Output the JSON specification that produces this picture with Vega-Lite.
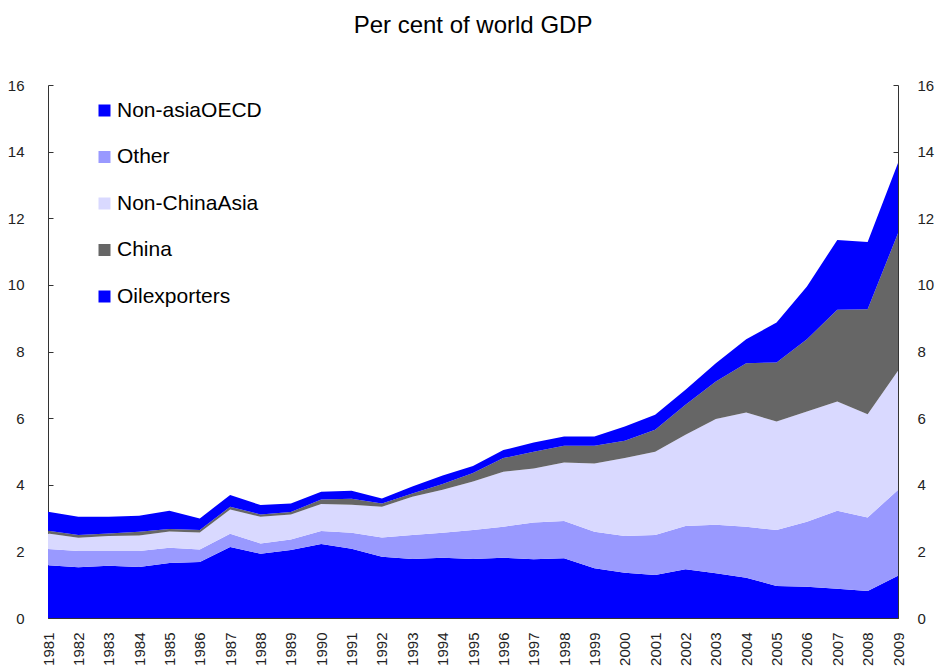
{
  "$schema": "https://vega.github.io/schema/vega-lite/v6.json",
  "width": 850,
  "height": 533,
  "autosize": "none",
  "padding": {"left": 48, "top": 85, "right": 39, "bottom": 51},
  "background": "white",
  "title": {"text": "Per cent of world GDP", "font": "Liberation Sans", "fontSize": 24, "fontWeight": "normal", "color": "black", "anchor": "middle", "offset": 40},
  "config": {"view": {"stroke": null}, "font": "Liberation Sans"},
  "data": {"values": [
    {"year": "1981", "Non-asiaOECD": 1.58, "Other": 0.49, "Non-ChinaAsia": 0.47, "China": 0.08, "Oilexporters": 0.57},
    {"year": "1982", "Non-asiaOECD": 1.52, "Other": 0.49, "Non-ChinaAsia": 0.40, "China": 0.08, "Oilexporters": 0.55},
    {"year": "1983", "Non-asiaOECD": 1.57, "Other": 0.44, "Non-ChinaAsia": 0.45, "China": 0.08, "Oilexporters": 0.50},
    {"year": "1984", "Non-asiaOECD": 1.53, "Other": 0.48, "Non-ChinaAsia": 0.47, "China": 0.11, "Oilexporters": 0.48},
    {"year": "1985", "Non-asiaOECD": 1.65, "Other": 0.46, "Non-ChinaAsia": 0.49, "China": 0.07, "Oilexporters": 0.55},
    {"year": "1986", "Non-asiaOECD": 1.68, "Other": 0.38, "Non-ChinaAsia": 0.51, "China": 0.07, "Oilexporters": 0.35},
    {"year": "1987", "Non-asiaOECD": 2.13, "Other": 0.40, "Non-ChinaAsia": 0.73, "China": 0.08, "Oilexporters": 0.35},
    {"year": "1988", "Non-asiaOECD": 1.93, "Other": 0.31, "Non-ChinaAsia": 0.80, "China": 0.07, "Oilexporters": 0.28},
    {"year": "1989", "Non-asiaOECD": 2.04, "Other": 0.32, "Non-ChinaAsia": 0.75, "China": 0.07, "Oilexporters": 0.26},
    {"year": "1990", "Non-asiaOECD": 2.22, "Other": 0.39, "Non-ChinaAsia": 0.81, "China": 0.14, "Oilexporters": 0.23},
    {"year": "1991", "Non-asiaOECD": 2.08, "Other": 0.48, "Non-ChinaAsia": 0.84, "China": 0.18, "Oilexporters": 0.24},
    {"year": "1992", "Non-asiaOECD": 1.84, "Other": 0.58, "Non-ChinaAsia": 0.92, "China": 0.10, "Oilexporters": 0.15},
    {"year": "1993", "Non-asiaOECD": 1.77, "Other": 0.72, "Non-ChinaAsia": 1.15, "China": 0.10, "Oilexporters": 0.21},
    {"year": "1994", "Non-asiaOECD": 1.81, "Other": 0.75, "Non-ChinaAsia": 1.29, "China": 0.17, "Oilexporters": 0.26},
    {"year": "1995", "Non-asiaOECD": 1.77, "Other": 0.87, "Non-ChinaAsia": 1.46, "China": 0.25, "Oilexporters": 0.21},
    {"year": "1996", "Non-asiaOECD": 1.81, "Other": 0.93, "Non-ChinaAsia": 1.65, "China": 0.41, "Oilexporters": 0.24},
    {"year": "1997", "Non-asiaOECD": 1.76, "Other": 1.11, "Non-ChinaAsia": 1.62, "China": 0.50, "Oilexporters": 0.28},
    {"year": "1998", "Non-asiaOECD": 1.79, "Other": 1.12, "Non-ChinaAsia": 1.76, "China": 0.50, "Oilexporters": 0.28},
    {"year": "1999", "Non-asiaOECD": 1.49, "Other": 1.10, "Non-ChinaAsia": 2.05, "China": 0.53, "Oilexporters": 0.28},
    {"year": "2000", "Non-asiaOECD": 1.36, "Other": 1.10, "Non-ChinaAsia": 2.34, "China": 0.52, "Oilexporters": 0.43},
    {"year": "2001", "Non-asiaOECD": 1.29, "Other": 1.20, "Non-ChinaAsia": 2.50, "China": 0.66, "Oilexporters": 0.45},
    {"year": "2002", "Non-asiaOECD": 1.46, "Other": 1.30, "Non-ChinaAsia": 2.74, "China": 0.90, "Oilexporters": 0.45},
    {"year": "2003", "Non-asiaOECD": 1.34, "Other": 1.46, "Non-ChinaAsia": 3.17, "China": 1.13, "Oilexporters": 0.55},
    {"year": "2004", "Non-asiaOECD": 1.21, "Other": 1.53, "Non-ChinaAsia": 3.43, "China": 1.48, "Oilexporters": 0.72},
    {"year": "2005", "Non-asiaOECD": 0.96, "Other": 1.68, "Non-ChinaAsia": 3.26, "China": 1.77, "Oilexporters": 1.20},
    {"year": "2006", "Non-asiaOECD": 0.94, "Other": 1.95, "Non-ChinaAsia": 3.31, "China": 2.17, "Oilexporters": 1.58},
    {"year": "2007", "Non-asiaOECD": 0.88, "Other": 2.34, "Non-ChinaAsia": 3.28, "China": 2.75, "Oilexporters": 2.10},
    {"year": "2008", "Non-asiaOECD": 0.81, "Other": 2.21, "Non-ChinaAsia": 3.10, "China": 3.15, "Oilexporters": 2.02},
    {"year": "2009", "Non-asiaOECD": 1.27, "Other": 2.57, "Non-ChinaAsia": 3.58, "China": 4.13, "Oilexporters": 2.11}
  ]},
  "transform": [
    {"fold": ["Non-asiaOECD", "Other", "Non-ChinaAsia", "China", "Oilexporters"], "as": ["series", "value"]},
    {"calculate": "indexof(['Non-asiaOECD','Other','Non-ChinaAsia','China','Oilexporters'], datum.series)", "as": "stackOrder"}
  ],
  "encoding": {
    "x": {
      "field": "year", "type": "ordinal",
      "scale": {"type": "point", "padding": 0},
      "axis": {"title": null, "labelAngle": 270, "labelFontSize": 15, "labelColor": "#222", "labelFont": "Liberation Sans", "labelPadding": 20, "tickSize": -6, "tickColor": "#333", "domainColor": "#333", "labelBaseline": "middle", "labelAlign": "right"}
    }
  },
  "layer": [
    {
      "mark": {"type": "area", "interpolate": "linear"},
      "encoding": {
        "y": {"field": "value", "type": "quantitative", "stack": "zero", "scale": {"domain": [0, 16], "nice": false},
          "axis": {"title": null, "orient": "left", "values": [0, 2, 4, 6, 8, 10, 12, 14, 16], "grid": false, "labelFontSize": 15, "labelColor": "#222", "labelPadding": 29, "tickSize": -5, "tickColor": "#333", "domainColor": "#333"}},
        "order": {"field": "stackOrder", "type": "quantitative", "sort": "ascending"},
        "color": {
          "field": "series", "type": "nominal",
          "sort": ["Non-asiaOECD", "Other", "Non-ChinaAsia", "China", "Oilexporters"],
          "scale": {"domain": ["Non-asiaOECD", "Other", "Non-ChinaAsia", "China", "Oilexporters"], "range": ["#0000FF", "#9999FF", "#D9D9FF", "#666666", "#0000FF"]},
          "legend": {"title": null, "orient": "none", "legendX": 46, "legendY": 15, "symbolType": "square", "symbolSize": 144, "symbolStrokeWidth": 0, "labelFontSize": 21, "labelFont": "Liberation Sans", "labelColor": "black", "labelOffset": 2, "rowPadding": 24.5, "labelLimit": 300}
        }
      }
    },
    {
      "mark": {"type": "point", "opacity": 0},
      "encoding": {
        "y": {"field": "value", "type": "quantitative", "stack": null, "scale": {"domain": [0, 16], "nice": false},
          "axis": {"title": null, "orient": "right", "values": [0, 2, 4, 6, 8, 10, 12, 14, 16], "grid": false, "labelFontSize": 15, "labelColor": "#222", "labelPadding": 24, "tickSize": -5, "tickColor": "#333", "domainColor": "#333", "labelAlign": "left"}}
      }
    }
  ],
  "resolve": {"scale": {"y": "independent"}}
}
